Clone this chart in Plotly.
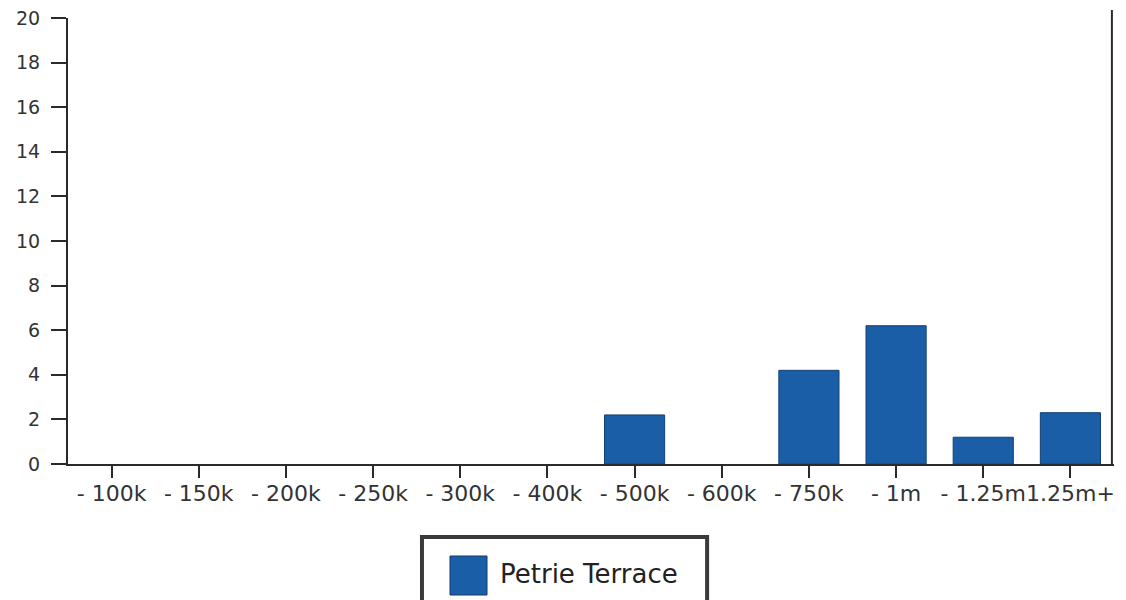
import plotly.graph_objects as go

categories = ["- 100k", "- 150k", "- 200k", "- 250k", "- 300k", "- 400k",
              "- 500k", "- 600k", "- 750k", "- 1m", "- 1.25m", "1.25m+"]
values = [0, 0, 0, 0, 0, 0, 2.2, 0, 4.2, 6.2, 1.2, 2.3]
series_name = "Petrie Terrace"
y_ticks = list(range(0, 21, 2))

bar_color = "#1a5ea8"
axis_color = "#2a2a2a"
text_color = "#333333"

fig = go.Figure()
fig.add_trace(go.Bar(
    x=categories, y=values, name=series_name,
    marker=dict(color=bar_color,
                line=dict(color="#143f72", width=[0 if v == 0 else 1 for v in values])),
    width=0.69, showlegend=False,
))

fig.update_layout(
    width=1126, height=600,
    margin=dict(l=68, r=12, t=18, b=136, autoexpand=False),
    paper_bgcolor="white", plot_bgcolor="white",
    font=dict(family="DejaVu Sans", color=text_color),
    xaxis=dict(
        type="category", range=[-0.5, 11.5], automargin=False,
        showline=True, linecolor=axis_color, linewidth=2,
        ticks="outside", ticklen=12, tickwidth=2, tickcolor=axis_color,
        showgrid=False, zeroline=False,
        tickfont=dict(size=22, family="DejaVu Sans", color=text_color),
        tickangle=0, ticklabelstandoff=-3, ticklabeloverflow="allow",
    ),
    yaxis=dict(
        range=[0, 20], tickvals=y_ticks, automargin=False,
        showline=True, linecolor=axis_color, linewidth=2,
        ticks="outside", ticklen=15, tickwidth=2, tickcolor=axis_color,
        showgrid=False, zeroline=False,
        tickfont=dict(size=19, family="DejaVu Sans", color=text_color),
        ticklabelstandoff=7, ticklabeloverflow="allow",
    ),
)

# right border line
fig.add_shape(type="line", xref="paper", yref="paper",
              x0=0.998, x1=0.998, y0=0, y1=1.018,
              line=dict(color=axis_color, width=2))

# legend box drawn manually
fig.add_shape(type="rect", xref="paper", yref="paper",
              x0=0.3384, x1=0.611, y0=-0.1637, y1=-0.35,
              line=dict(color="#3a3a3a", width=4), fillcolor="white")
fig.add_shape(type="rect", xref="paper", yref="paper",
              x0=(450 - 68) / 1046, x1=(487 - 68) / 1046,
              y0=(464 - 556) / 446, y1=(464 - 595) / 446,
              line=dict(color="#123a6a", width=1), fillcolor=bar_color)
fig.add_annotation(text=series_name, xref="paper", yref="paper",
                   x=(498 - 68) / 1046, y=(464 - 574) / 446,
                   xanchor="left", yanchor="middle", showarrow=False,
                   font=dict(size=26, family="DejaVu Sans", color="#222222"))

fig.write_html("out.html",
               config={"displayModeBar": False},
               post_script="document.body.style.margin='0';")
